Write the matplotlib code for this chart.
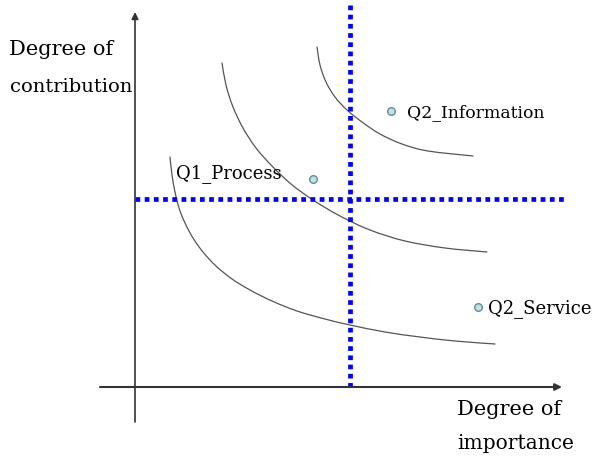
import matplotlib
matplotlib.use("Agg")
import matplotlib.pyplot as plt
from matplotlib.path import Path
from matplotlib.patches import PathPatch

# Conceptual diagram drawn in a pixel-like coordinate frame (x right, y down)
W, H = 593, 461

# Indifference-like curves
curve_outer_x = [170, 172, 175, 179, 185, 193, 203, 216, 232, 250, 272, 297, 325,
                 350, 385, 420, 455, 495]
curve_outer_y = [157, 175, 192, 208, 223, 238, 252, 266, 279, 290, 301, 311, 319,
                 325, 332, 337, 341, 344]
curve_mid_x = [222, 226, 233, 243, 256, 272, 291, 313, 340, 370, 405, 445, 487]
curve_mid_y = [63, 85, 107, 128, 148, 166, 184, 200, 216, 230, 241, 248, 252]
curve_inner_x = [317, 320, 326, 335, 347, 362, 380, 402, 428, 473]
curve_inner_y = [47, 65, 82, 97, 110, 122, 134, 144, 151, 156]

# Items
point_names = ["Q1_Process", "Q2_Information", "Q2_Service"]
point_x = [313, 391, 478]
point_y = [179, 111, 307]

# Threshold lines
vline_x = 350
hline_y = 199


def smooth_path(xs, ys):
    """Catmull-Rom through the given points, rendered as cubic Bezier segments."""
    pts = list(zip(xs, ys))
    n = len(pts)
    verts = [pts[0]]
    codes = [Path.MOVETO]
    for i in range(n - 1):
        p0 = pts[i - 1] if i > 0 else pts[i]
        p1 = pts[i]
        p2 = pts[i + 1]
        p3 = pts[i + 2] if i + 2 < n else pts[i + 1]
        c1 = (p1[0] + (p2[0] - p0[0]) / 6, p1[1] + (p2[1] - p0[1]) / 6)
        c2 = (p2[0] - (p3[0] - p1[0]) / 6, p2[1] - (p3[1] - p1[1]) / 6)
        verts += [c1, c2, p2]
        codes += [Path.CURVE4] * 3
    return Path(verts, codes)


fig = plt.figure(figsize=(W / 100, H / 100), dpi=100)
ax = fig.add_axes([0, 0, 1, 1])
ax.set_xlim(0, W)
ax.set_ylim(H, 0)
ax.axis("off")

# axes with arrows
ax.annotate("", xy=(135, 12), xytext=(135, 422),
            arrowprops=dict(arrowstyle="-|>", color="#333333", lw=1.2,
                            mutation_scale=10, shrinkA=0, shrinkB=0))
ax.annotate("", xy=(562, 387), xytext=(100, 387),
            arrowprops=dict(arrowstyle="-|>", color="#333333", lw=1.5,
                            mutation_scale=10, shrinkA=0, shrinkB=0))

# curves
for cx, cy in [(curve_outer_x, curve_outer_y), (curve_mid_x, curve_mid_y),
               (curve_inner_x, curve_inner_y)]:
    ax.add_patch(PathPatch(smooth_path(cx, cy), facecolor="none",
                           edgecolor="#555555", lw=0.9, capstyle="round"))

# blue dotted lines
ax.plot([vline_x, vline_x], [5, 390], color="#0000ff", lw=3.4,
        linestyle=(0, (1, 0.95)), dash_capstyle="butt")
ax.plot([135, 566], [hline_y, hline_y], color="#0000ff", lw=3.4,
        linestyle=(0, (1, 0.95)), dash_capstyle="butt")

# points
ax.scatter(point_x, point_y, s=30, facecolor="#b8e4ea", edgecolor="#6e8a8c",
           linewidth=1.0, zorder=5)

font = "DejaVu Serif"
ax.text(176, 178, point_names[0], fontsize=13, family=font, va="baseline", ha="left")
ax.text(407, 117, point_names[1], fontsize=12.4, family=font, va="baseline", ha="left")
ax.text(488, 313, point_names[2], fontsize=13, family=font, va="baseline", ha="left")

ax.text(9, 55, "Degree of", fontsize=15, family=font, va="baseline", ha="left")
ax.text(10, 92, "contribution", fontsize=14, family=font, va="baseline", ha="left")
ax.text(457, 415, "Degree of", fontsize=15, family=font, va="baseline", ha="left")
ax.text(457, 449, "importance", fontsize=14.5, family=font, va="baseline", ha="left")

fig.savefig("out.png", dpi=100)
